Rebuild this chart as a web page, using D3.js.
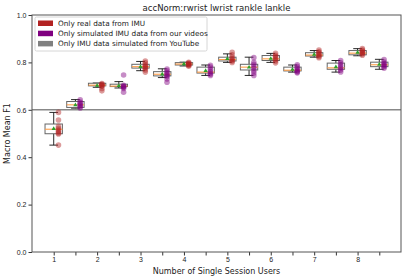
<!DOCTYPE html>
<html><head><meta charset="utf-8">
<script src="https://cdn.jsdelivr.net/npm/d3@7"></script>
<style>body{margin:0;background:#fff}svg{display:block;font-family:"DejaVu Sans",sans-serif}</style>
</head><body><svg id="c" width="407" height="280"></svg>
<script>
const title = "accNorm:rwrist lwrist rankle lankle";
const xLabel = "Number of Single Session Users";
const yLabel = "Macro Mean F1";
const categories = ["1","2","3","4","5","6","7","8"];
const yTicks = [0.0,0.2,0.4,0.6,0.8,1.0];
const baseline = 0.6;
const legendLabels = ["Only real data from IMU","Only simulated IMU data from our videos","Only IMU data simulated from YouTube"];
const legendColors = ["#b22222","#800080","#808080"];
// per-box stats, boxes alternate real / simulated (16 boxes)
const boxGroup = ["real","sim","real","sim","real","sim","real","sim","real","sim","real","sim","real","sim","real","sim"];
const q1     = [0.499,0.610,0.701,0.698,0.776,0.743,0.789,0.755,0.806,0.768,0.808,0.764,0.827,0.771,0.832,0.782];
const median = [0.518,0.621,0.704,0.700,0.782,0.750,0.793,0.759,0.812,0.780,0.815,0.767,0.831,0.777,0.839,0.790];
const q3     = [0.540,0.635,0.712,0.708,0.792,0.761,0.799,0.780,0.822,0.792,0.829,0.780,0.841,0.797,0.850,0.801];
const whisLo = [0.451,0.607,0.695,0.692,0.765,0.736,0.785,0.745,0.800,0.745,0.800,0.759,0.822,0.759,0.828,0.771];
const whisHi = [0.589,0.643,0.713,0.719,0.804,0.773,0.801,0.789,0.836,0.822,0.838,0.789,0.850,0.808,0.858,0.813];
const means  = [0.520,0.620,0.702,0.701,0.782,0.750,0.793,0.765,0.815,0.779,0.816,0.770,0.833,0.781,0.842,0.791];
const realDots = [
  [0.589,0.557,0.530,0.522,0.515,0.508,0.502,0.498,0.451],
  [0.711,0.708,0.705,0.702,0.700,0.690,0.680],
  [0.806,0.798,0.790,0.784,0.780,0.775,0.768,0.759],
  [0.800,0.797,0.794,0.792,0.790,0.787,0.784],
  [0.843,0.832,0.822,0.815,0.810,0.806,0.800],
  [0.838,0.830,0.825,0.818,0.812,0.806,0.798],
  [0.852,0.845,0.840,0.835,0.830,0.825,0.820],
  [0.858,0.852,0.848,0.843,0.840,0.836,0.830]
];
const simDots = [
  [0.642,0.633,0.628,0.622,0.618,0.613,0.608],
  [0.747,0.703,0.700,0.697,0.695,0.690,0.674],
  [0.772,0.765,0.757,0.750,0.746,0.740,0.730,0.716],
  [0.788,0.780,0.770,0.762,0.756,0.750,0.745],
  [0.820,0.800,0.792,0.782,0.775,0.765,0.755,0.745],
  [0.790,0.782,0.775,0.768,0.764,0.760,0.756],
  [0.808,0.798,0.790,0.782,0.775,0.768,0.760],
  [0.812,0.802,0.795,0.790,0.786,0.782,0.775]
];

const W=407,H=280, m={l:32,r:6,t:15,b:28};
const svg=d3.select("#c");
const x=d3.scaleLinear().domain([0,17]).range([m.l,W-m.r]);
const y=d3.scaleLinear().domain([0,1]).range([H-m.b,m.t]);
const positions=d3.range(1,17);

// axes
const gx=svg.append("g").attr("transform",`translate(0,${H-m.b})`)
  .call(d3.axisBottom(x).tickValues(positions).tickSize(3.5).tickPadding(2)
  .tickFormat(d=> d%2===1 ? categories[(d-1)/2] : ""));
const gy=svg.append("g").attr("transform",`translate(${m.l},0)`)
  .call(d3.axisLeft(y).tickValues(yTicks).tickSize(3.5).tickPadding(2).tickFormat(d3.format(".1f")));
[gx,gy].forEach(g=>{g.select(".domain").remove();g.selectAll("text").attr("font-size",7).attr("fill","#222");g.selectAll("line").attr("stroke","#333");});

// baseline
svg.append("line").attr("x1",x(0)).attr("x2",x(17)).attr("y1",y(baseline)).attr("y2",y(baseline))
  .attr("stroke","#888").attr("stroke-width",1.6);

const bw=0.8, cw=0.4, dotOff=0.22;
const colorOf=g=> g==="real" ? legendColors[0] : legendColors[1];
const boxes=svg.append("g");
positions.forEach((p,i)=>{
  const g=boxes.append("g");
  const cx=x(p);
  g.append("line").attr("x1",cx).attr("x2",cx).attr("y1",y(whisLo[i])).attr("y2",y(q1[i])).attr("stroke","#111").attr("stroke-width",0.9);
  g.append("line").attr("x1",cx).attr("x2",cx).attr("y1",y(q3[i])).attr("y2",y(whisHi[i])).attr("stroke","#111").attr("stroke-width",0.9);
  [whisLo[i],whisHi[i]].forEach(v=>g.append("line").attr("x1",x(p-cw/2)).attr("x2",x(p+cw/2)).attr("y1",y(v)).attr("y2",y(v)).attr("stroke","#111").attr("stroke-width",0.9));
  g.append("rect").attr("x",x(p-bw/2)).attr("width",x(p+bw/2)-x(p-bw/2))
   .attr("y",y(q3[i])).attr("height",Math.max(1,y(q1[i])-y(q3[i])))
   .attr("fill","#fff").attr("fill-opacity",0.6).attr("stroke","#666").attr("stroke-width",1);
  g.append("line").attr("x1",x(p-bw/2)).attr("x2",x(p+bw/2)).attr("y1",y(median[i])).attr("y2",y(median[i])).attr("stroke","#ff9f4a").attr("stroke-width",1.1);
  const dots = boxGroup[i]==="real" ? realDots[(p-1)/2] : simDots[(p-2)/2];
  g.selectAll("circle").data(dots).join("circle").attr("cx",x(p+dotOff)).attr("cy",d=>y(d)).attr("r",2.8)
   .attr("fill",colorOf(boxGroup[i])).attr("fill-opacity",0.45);
  g.append("path").attr("d",d3.symbol(d3.symbolTriangle,8)()).attr("transform",`translate(${cx},${y(means[i])})`).attr("fill","#2ca02c");
});

// frame
svg.append("rect").attr("x",m.l).attr("y",m.t).attr("width",W-m.l-m.r).attr("height",H-m.t-m.b)
  .attr("fill","none").attr("stroke","#555").attr("stroke-width",1);

// titles
svg.append("text").attr("x",(m.l+W-m.r)/2).attr("y",11).attr("text-anchor","middle").attr("font-size",8.5).attr("fill","#222").text(title);
svg.append("text").attr("x",(m.l+W-m.r)/2).attr("y",274).attr("text-anchor","middle").attr("font-size",8).attr("fill","#222").text(xLabel);
svg.append("text").attr("transform",`translate(10,${(m.t+H-m.b)/2}) rotate(-90)`).attr("text-anchor","middle").attr("font-size",8).attr("fill","#222").text(yLabel);

// legend
const lg=svg.append("g");
lg.append("rect").attr("x",35).attr("y",17).attr("width",172).attr("height",34).attr("fill","#fff").attr("fill-opacity",0.85).attr("stroke","#ccc").attr("stroke-width",0.8).attr("rx",1.5);
legendLabels.forEach((t,i)=>{
  const yy=23.5+i*10.2;
  lg.append("rect").attr("x",38).attr("y",yy-3).attr("width",15).attr("height",5.5).attr("fill",legendColors[i]);
  lg.append("text").attr("x",58).attr("y",yy+2.5).attr("font-size",7.3).attr("fill","#222").text(t);
});
</script></body></html>
